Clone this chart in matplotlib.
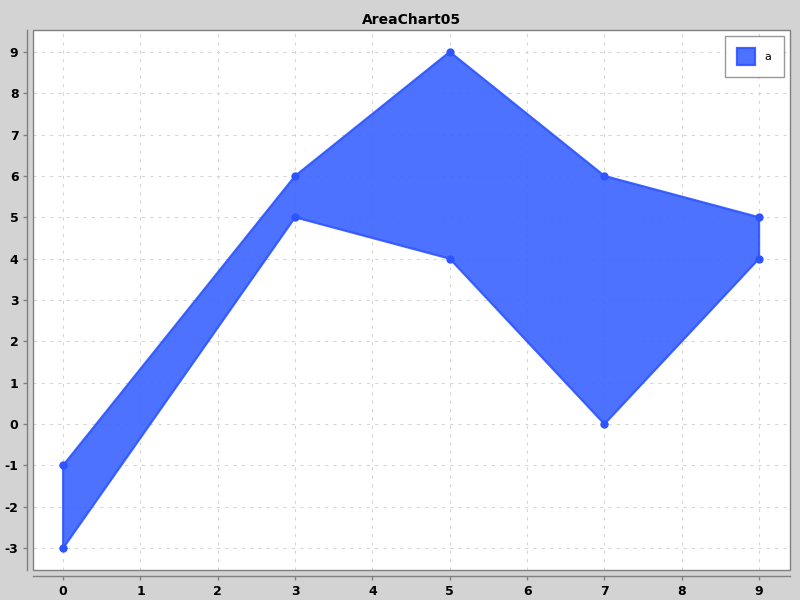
import matplotlib.pyplot as plt
from matplotlib.patches import Rectangle
import numpy as np

plt.rcParams["axes.unicode_minus"] = False

x = [0, 3, 5, 7, 9]
upper = [-1, 6, 9, 6, 5]
lower = [-3, 5, 4, 0, 4]
series_name = "a"

fig = plt.figure(figsize=(8, 6), dpi=100, facecolor="#d3d3d3")
ax = fig.add_axes([33 / 800, 30 / 600, 757 / 800, 540 / 600])
ax.set_facecolor("white")

px = list(x) + list(x[::-1])
py = list(upper) + list(lower[::-1])
ax.fill(px, py, facecolor="#3a63ff", alpha=0.9, edgecolor="#2d55ff",
        linewidth=1.6, zorder=3, label=series_name)
ax.plot(x, upper, "o", color="#2d55ff", markersize=5, zorder=4)
ax.plot(x, lower, "o", color="#2d55ff", markersize=5, zorder=4)

ax.set_xlim(-0.39, 9.40)
ax.set_ylim(-3.53, 9.53)
ax.set_xticks(range(0, 10))
ax.set_yticks(range(-3, 10))
ax.grid(True, color="#d4d4d4", linestyle=(0, (3, 5)), linewidth=0.75)
ax.set_axisbelow(True)

for s in ["top", "right"]:
    ax.spines[s].set_visible(False)
for s in ["left", "bottom"]:
    ax.spines[s].set_position(("outward", 4))
    ax.spines[s].set_color("#808080")
    ax.spines[s].set_linewidth(1)
ax.add_patch(Rectangle((0, 0), 1, 1, transform=ax.transAxes, fill=False,
                       edgecolor="#808080", linewidth=1, clip_on=False, zorder=5))

ax.tick_params(colors="#808080", labelcolor="black", length=3, width=1)
for lbl in ax.get_xticklabels() + ax.get_yticklabels():
    lbl.set_fontweight("bold")
    lbl.set_fontsize(9)

ax.set_title("AreaChart05", fontsize=10, fontweight="bold", pad=4)

leg = ax.legend(loc="upper right", fontsize=8, frameon=True, fancybox=False,
                handlelength=1.6, handleheight=1.9, borderpad=1.1,
                handletextpad=0.9, borderaxespad=0,
                bbox_to_anchor=(0.992, 0.989))
leg.get_frame().set_edgecolor("#808080")
leg.get_frame().set_linewidth(1)

fig.savefig("out.png", dpi=100, facecolor=fig.get_facecolor())
